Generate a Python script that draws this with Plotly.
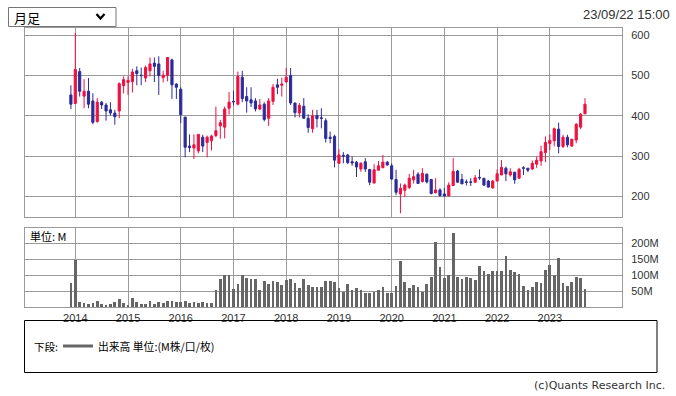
import plotly.graph_objects as go

W, H = 676, 396

# ---------------- data ----------------
years = ["2014", "2015", "2016", "2017", "2018", "2019", "2020", "2021", "2022", "2023"]
# monthly bars: Dec 2013 .. Sep 2023
months = []
y0, m0 = 2013, 12
for k in range(118):
    mm = (m0 - 1 + k) % 12 + 1
    yy = y0 + (m0 - 1 + k) // 12
    months.append(f"{yy}-{mm:02d}")

open_ = [452, 431, 510, 449, 461, 437, 386, 434, 427, 415, 407, 412, 475, 483, 485, 512, 501, 494, 512, 531,
         529, 495, 500, 539, 479, 466, 397, 325, 320, 313, 347, 334, 338, 351, 375, 372, 419, 436, 429, 496,
         448, 440, 437, 417, 429, 394, 436, 477, 476, 484, 500, 432, 407, 424, 394, 368, 401, 395, 388, 347,
         349, 282, 302, 303, 286, 285, 268, 286, 267, 233, 265, 271, 285, 276, 242, 206, 215, 222, 241, 255,
         237, 255, 242, 209, 216, 206, 201, 227, 263, 242, 236, 236, 235, 247, 245, 238, 221, 238, 253, 270,
         253, 260, 245, 271, 270, 268, 280, 288, 309, 331, 338, 367, 324, 347, 325, 340, 372, 405]
high = [476, 606, 519, 491, 494, 456, 444, 437, 432, 434, 415, 483, 498, 498, 517, 523, 520, 525, 545, 545,
        548, 512, 546, 542, 481, 471, 397, 354, 354, 354, 353, 351, 353, 423, 390, 423, 459, 462, 510, 512,
        471, 471, 444, 442, 434, 444, 479, 492, 495, 519, 519, 432, 432, 444, 404, 415, 415, 419, 394, 361,
        353, 317, 310, 305, 299, 288, 285, 295, 267, 280, 288, 303, 288, 282, 266, 232, 232, 256, 266, 260,
        270, 257, 242, 245, 220, 221, 235, 295, 266, 256, 242, 245, 253, 267, 245, 241, 241, 267, 290, 274,
        270, 260, 271, 275, 270, 289, 299, 326, 349, 354, 371, 383, 353, 353, 342, 382, 407, 444]
low = [417, 430, 448, 419, 419, 379, 383, 417, 388, 401, 378, 394, 456, 452, 458, 476, 476, 484, 498, 484,
       452, 483, 486, 442, 442, 382, 297, 310, 293, 307, 310, 297, 314, 347, 343, 344, 403, 426, 426, 434,
       408, 422, 411, 414, 386, 375, 427, 454, 448, 484, 427, 396, 396, 393, 358, 358, 371, 369, 334, 332,
       272, 282, 282, 280, 276, 248, 261, 261, 228, 233, 265, 271, 276, 241, 203, 158, 198, 218, 232, 232,
       234, 232, 205, 207, 199, 199, 201, 227, 235, 231, 227, 226, 235, 241, 226, 222, 219, 238, 253, 238,
       249, 231, 243, 253, 260, 266, 271, 276, 285, 315, 324, 307, 320, 322, 323, 332, 367, 405]
close = [429, 515, 461, 461, 429, 384, 434, 427, 412, 407, 398, 480, 490, 488, 509, 505, 500, 520, 529, 523,
         500, 501, 545, 477, 471, 403, 322, 321, 328, 354, 325, 347, 350, 363, 383, 417, 434, 435, 498, 443,
         437, 432, 417, 427, 391, 437, 471, 471, 479, 496, 432, 408, 426, 394, 371, 400, 393, 394, 344, 344,
         290, 303, 300, 284, 283, 273, 282, 268, 235, 266, 276, 285, 278, 243, 210, 220, 228, 245, 249, 232,
         257, 236, 207, 216, 202, 201, 228, 262, 235, 231, 235, 235, 246, 246, 228, 223, 238, 256, 272, 256,
         261, 241, 267, 270, 265, 282, 290, 311, 334, 339, 368, 324, 347, 328, 342, 379, 404, 429]
volume = [77, 148, 16, 14, 10.5, 14, 20, 10.5, 7.4, 10.5, 17, 26, 14, 7.4, 29.5, 18, 10.5, 10.5, 22, 10.5,
          17, 14, 22, 22, 18, 17, 20, 14, 18, 15, 17, 15, 14, 55, 89, 102, 102, 58, 74, 102,
          94, 89, 89, 55, 83, 74, 82, 79, 70, 86, 89, 78, 62, 89, 70, 64, 64, 64, 83, 83,
          80, 62, 48, 74, 55, 61, 55, 47, 47, 50, 55, 64, 47, 47, 67, 147, 80, 61, 70, 64,
          50, 74, 96, 206, 127, 94, 102, 232, 97, 89, 96, 94, 86, 130, 115, 105, 115, 115, 115, 162,
          118, 112, 105, 67, 55, 64, 80, 77, 118, 134, 102, 156, 77, 67, 80, 96, 93, 58]

price_ticks = [200, 300, 400, 500, 600]
vol_ticks = [50, 100, 150, 200]
vol_labels = ["50M", "100M", "150M", "200M"]

# ---------------- geometry helpers ----------------
def px(x):
    return x / W

def py(y):
    return 1 - y / H

idx = list(range(len(months)))
jan_idx = [i for i, m in enumerate(months) if m.endswith("-01")]

RED = "#EE1041"
BLUE = "#2B2B98"
GRID = "#9A9A9A"
TXT = "#333333"

x_left, x_right = 25, 622
spacing = 4.394
x0_px = 70.9
xr = [(x_left - x0_px) / spacing, (x_right - x0_px) / spacing]

fig = go.Figure()
fig.add_trace(go.Candlestick(
    x=idx, open=open_, high=high, low=low, close=close,
    increasing=dict(line=dict(color=RED, width=1), fillcolor=RED),
    decreasing=dict(line=dict(color=BLUE, width=1), fillcolor=BLUE),
    whiskerwidth=0, xaxis="x", yaxis="y", showlegend=False, hoverinfo="skip",
))
fig.add_trace(go.Bar(
    x=idx, y=volume, marker=dict(color="#666666", line=dict(width=0)), width=0.62,
    xaxis="x2", yaxis="y2", showlegend=False, hoverinfo="skip",
))

font_lat = "Liberation Sans, Arial, sans-serif"
font_jp = "Noto Sans CJK JP, sans-serif"

axis_common = dict(showgrid=True, gridcolor=GRID, gridwidth=1, zeroline=False,
                   showline=True, linecolor=GRID, linewidth=1, mirror=True)

fig.update_layout(
    width=W, height=H, margin=dict(l=0, r=0, t=0, b=0),
    paper_bgcolor="white", plot_bgcolor="white",
    bargap=0, boxgap=0.3,
    xaxis=dict(domain=[px(x_left), px(x_right)], range=xr, tickvals=jan_idx,
               showticklabels=False, ticks="", anchor="y", rangeslider=dict(visible=False),
               **axis_common),
    yaxis=dict(domain=[py(217.3), py(27.7)], range=[148, 619], tickvals=price_ticks,
               side="right", ticks="", ticklabelstandoff=6, anchor="x",
               tickfont=dict(family=font_lat, size=11, color=TXT), **axis_common),
    xaxis2=dict(domain=[px(x_left), px(x_right)], range=xr, tickvals=jan_idx, ticktext=years,
                ticks="", anchor="y2", tickfont=dict(family=font_lat, size=11, color=TXT),
                **axis_common),
    yaxis2=dict(domain=[py(307.3), py(227.7)], range=[0, 249], tickvals=vol_ticks, ticktext=vol_labels,
                side="right", ticks="", ticklabelstandoff=6, anchor="x2",
                tickfont=dict(family=font_lat, size=11, color=TXT), **axis_common),
)

shapes = [
    # dropdown box
    dict(type="rect", xref="paper", yref="paper", x0=px(8.5), x1=px(116), y0=py(26.5), y1=py(7.5),
         line=dict(color="#767676", width=1), fillcolor="white"),
    # chevron
    dict(type="path", xref="paper", yref="paper",
         path=f"M {px(96.5)} {py(14)} L {px(100.5)} {py(18.5)} L {px(104.5)} {py(14)}",
         line=dict(color="black", width=2.2)),
    # legend box
    dict(type="rect", xref="paper", yref="paper", x0=px(24.5), x1=px(657), y0=py(372.5), y1=py(320.5),
         line=dict(color="black", width=1), fillcolor="rgba(0,0,0,0)"),
    # legend line sample
    dict(type="line", xref="paper", yref="paper", x0=px(63), x1=px(93), y0=py(346), y1=py(346),
         line=dict(color="#666666", width=3)),
]

annotations = [
    dict(text="月足", x=px(12), y=py(17), xanchor="left", yanchor="middle",
         font=dict(family=font_jp, size=13, color="black")),
    dict(text="23/09/22 15:00", x=px(672), y=py(14), xanchor="right", yanchor="middle",
         font=dict(family=font_lat, size=13, color=TXT)),
    dict(text="単位: M", x=px(28), y=py(236), xanchor="left", yanchor="middle",
         font=dict(family=font_jp, size=11, color="black")),
    dict(text="下段:", x=px(32), y=py(346), xanchor="left", yanchor="middle",
         font=dict(family=font_jp, size=10.5, color="black")),
    dict(text="出来高 単位:(M株/口/枚)", x=px(96), y=py(346), xanchor="left", yanchor="middle",
         font=dict(family=font_jp, size=10.8, color="black")),
    dict(text="(c)Quants Research Inc.", x=px(667), y=py(385), xanchor="right", yanchor="middle",
         font=dict(family="DejaVu Sans, sans-serif", size=11, color=TXT)),
]
for a in annotations:
    a.update(xref="paper", yref="paper", showarrow=False)

fig.update_layout(shapes=shapes, annotations=annotations)
fig.write_html("out.html")
